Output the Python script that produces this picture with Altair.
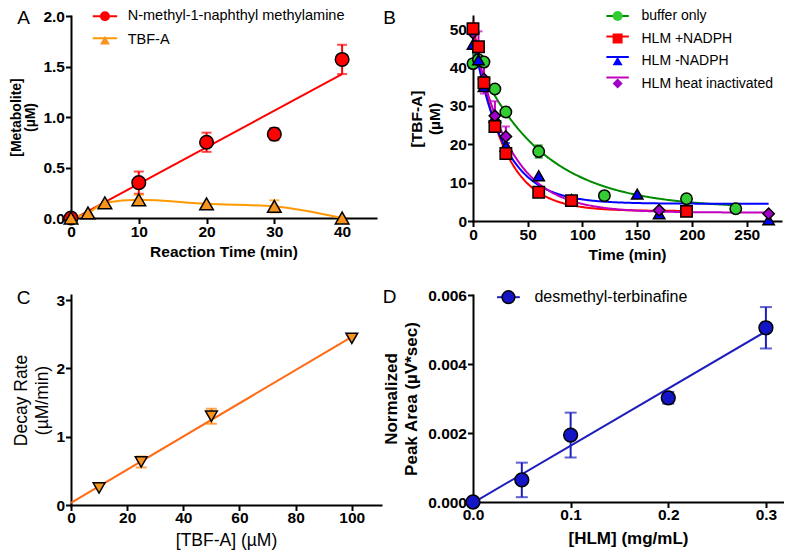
import altair as alt
import pandas as pd

FONT = "Liberation Sans"

panel_letters = ["A", "B", "C", "D"]

# ---------------- Panel A ----------------
a_series = ["N-methyl-1-naphthyl methylamine", "TBF-A"]
a_nm_time = [0, 10, 20, 30, 40]
a_nm_val = [0.0, 0.35, 0.75, 0.83, 1.57]
a_nm_err = [0.0, 0.11, 0.095, 0.06, 0.145]
a_tb_time = [0, 2.5, 5, 10, 20, 30, 40]
a_tb_val = [0.0, 0.05, 0.15, 0.18, 0.14, 0.115, 0.0]
a_tb_err = [0.0, 0.0, 0.0, 0.05, 0.0, 0.06, 0.0]
a_fill = ["#FF0000", "#F7941D"]
a_line = ["#FF0000", "#FF9900"]
a_shapes = ["circle", "triangle-up"]
a_xticks = [0, 10, 20, 30, 40]
a_yticks = [0, 0.5, 1.0, 1.5, 2.0]

# ---------------- Panel B ----------------
b_series = ["buffer only", "HLM +NADPH", "HLM -NADPH", "HLM heat inactivated"]
b_buf_t = [0, 5, 10, 20, 30, 60, 120, 195, 240]
b_buf_v = [41.0, 42.0, 41.4, 34.4, 28.4, 18.1, 6.6, 5.8, 3.2]
b_buf_e = [0, 0, 0, 0, 0, 1.6, 0, 0, 0]
b_plus_t = [0, 5, 10, 20, 30, 60, 90, 195]
b_plus_v = [50.1, 45.4, 36.0, 24.6, 17.6, 7.5, 5.3, 2.5]
b_plus_e = [0, 0, 0, 0, 0, 0, 0, 0]
b_minus_t = [0, 5, 10, 20, 30, 60, 90, 150, 170, 270]
b_minus_v = [46.0, 42.0, 35.0, 27.0, 19.5, 11.8, 5.6, 7.0, 1.9, 0.3]
b_minus_e = [0, 0, 0, 0, 0.8, 0, 0, 0, 0, 0]
b_heat_t = [0, 5, 10, 20, 30, 170, 270]
b_heat_v = [49.0, 45.2, 37.0, 27.4, 22.0, 2.8, 1.9]
b_heat_e = [0, 4.2, 3.8, 3.8, 2.6, 0, 0]
# one-phase decay fit parameters: y0, plateau, k, last time
b_fit_y0 = [44.0, 52.0, 48.0, 49.0]
b_fit_plateau = [3.3, 2.6, 4.5, 2.2]
b_fit_k = [0.0164, 0.0388, 0.0366, 0.0304]
b_fit_tmax = [240, 195, 270, 270]
b_fill = ["#33CC33", "#FF0000", "#0000FF", "#A000C8"]
b_line = ["#008A00", "#FF0000", "#0000FF", "#C000C0"]
b_shapes = ["circle", "square", "triangle-up", "diamond"]
b_xticks = [0, 50, 100, 150, 200, 250]
b_yticks = [0, 10, 20, 30, 40, 50]

# ---------------- Panel C ----------------
c_conc = [10, 25, 50, 100]
c_rate = [0.25, 0.63, 1.30, 2.44]
c_err = [0.0, 0.08, 0.11, 0.0]
c_fill = "#F7931E"
c_line = "#FF6A13"
c_xticks = [0, 20, 40, 60, 80, 100]
c_yticks = [0, 1, 2, 3]

# ---------------- Panel D ----------------
d_series = ["desmethyl-terbinafine"]
d_hlm = [0.0, 0.05, 0.1, 0.2, 0.3]
d_area = [0.0, 0.00064, 0.00194, 0.00302, 0.00505]
d_err = [0.0, 0.0005, 0.00065, 0.00017, 0.0006]
d_fill = ["#1515C8"]
d_line = ["#1E1EBE"]
d_xticks = [0, 0.1, 0.2, 0.3]
d_yticks = [0, 0.002, 0.004, 0.006]

LSUF = " (fit)"  # key suffix for the line legends (keeps them apart from marker legends)


def long_df(names, times, vals, errs):
    rows = []
    for name, ts, vs, es in zip(names, times, vals, errs):
        for t, v, e in zip(ts, vs, es):
            rows.append({"t": t, "v": v, "err": e, "lo": v - e, "hi": v + e,
                         "series": name, "series_l": name + LSUF})
    return pd.DataFrame(rows)


def axis(values, title, fmt=None, tsize=15.5, tweight="bold", tpad=4, lpad=1,
         lh=None, ext=None):
    kw = dict(values=values, title=title, titleFontSize=tsize, titleFontWeight=tweight,
              titlePadding=tpad, labelPadding=lpad, labelFlush=False, labelOverlap=False)
    if fmt:
        kw["format"] = fmt
    if lh:
        kw["titleLineHeight"] = lh
    if ext is not None:
        kw["minExtent"] = ext
        kw["maxExtent"] = ext
    return alt.Axis(**kw)


def line_legend(lx, ly, half, size, fs, loff, rpad):
    f = half / (size ** 0.5 / 2)
    return alt.Legend(orient="none", legendX=lx, legendY=ly, title=None,
                      symbolType=f"M{-f:.3f},0L{f:.3f},0", symbolSize=size,
                      symbolStrokeWidth=2, labelExpr="''", labelFontSize=fs,
                      labelOffset=loff, rowPadding=rpad, padding=0, zindex=1)


def marker_legend(lx, ly, size, fs, loff, rpad):
    return alt.Legend(orient="none", legendX=lx, legendY=ly, title=None,
                      symbolSize=size, symbolStrokeColor="black", symbolStrokeWidth=1.5,
                      labelFontSize=fs, labelOffset=loff, rowPadding=rpad, padding=0,
                      labelFont=FONT, labelColor="black", labelLimit=400, zindex=2)


def letter(ch, dx, dy):
    return alt.Chart(pd.DataFrame({"letter": [ch]})).mark_text(
        font=FONT, fontSize=19, align="center", baseline="middle", color="black"
    ).encode(x=alt.value(dx), y=alt.value(dy), text="letter:N")


def errbars(df, names, colors, xf, yf, size):
    layers = []
    for name, col in zip(names, colors):
        layers.append(alt.Chart(df).transform_filter(
            (alt.datum.series == name) & (alt.datum.err > 0)).mark_errorbar(
            ticks=True, size=size, thickness=2, color=col).encode(
            x=xf("t"), y=yf("lo"), y2="hi:Q"))
    return layers


# ======== Panel A ========
dfa = long_df(a_series, [a_nm_time, a_tb_time], [a_nm_val, a_tb_val], [a_nm_err, a_tb_err])
axA_x = axis(a_xticks, "Reaction Time (min)", tpad=4, lpad=1)
axA_y = axis(a_yticks, ["[Metabolite]", "(\u00b5M)"], fmt=".1f", tsize=14, lh=14, tpad=6, ext=28)
sAx = alt.Scale(domain=[0, 45], nice=False, zero=False)
sAy = alt.Scale(domain=[0, 2], nice=False, zero=False)
xA = lambda f: alt.X(f"{f}:Q", scale=sAx, axis=axA_x)
yA = lambda f: alt.Y(f"{f}:Q", scale=sAy, axis=axA_y)
strokeA = alt.Stroke("series_l:N", scale=alt.Scale(domain=[s + LSUF for s in a_series], range=a_line),
                     legend=line_legend(26.7, -7, 12.2, 100, 14.5, 15.5, 7))
legA = marker_legend(26.7, -7, 100, 14.5, 15.5, 7)

a_fit = alt.Chart(dfa).transform_filter(alt.datum.series == a_series[0]).transform_regression(
    "t", "v", groupby=["series_l"]).mark_line(strokeWidth=2).encode(x=xA("t"), y=yA("v"), stroke=strokeA)
a_curve = alt.Chart(dfa).transform_filter(alt.datum.series == a_series[1]).mark_line(
    strokeWidth=2, interpolate="monotone").encode(x=xA("t"), y=yA("v"), stroke=strokeA)
a_err = errbars(dfa, a_series, a_line, xA, yA, 10)
a_pts = alt.Chart(dfa).mark_point(filled=True, size=185, stroke="black", strokeWidth=1.5, opacity=1).encode(
    x=xA("t"), y=yA("v"),
    fill=alt.Fill("series:N", scale=alt.Scale(domain=a_series, range=a_fill), legend=legA),
    shape=alt.Shape("series:N", scale=alt.Scale(domain=a_series, range=a_shapes), legend=legA))
panelA = alt.layer(a_fit, a_curve, *a_err, a_pts, letter(panel_letters[0], -47.4, 2.3)).properties(
    width=305, height=202)

# ======== Panel B ========
order = [0, 2, 3, 1]  # drawing order (HLM +NADPH on top)
b_t_all = [b_buf_t, b_plus_t, b_minus_t, b_heat_t]
b_v_all = [b_buf_v, b_plus_v, b_minus_v, b_heat_v]
b_e_all = [b_buf_e, b_plus_e, b_minus_e, b_heat_e]
dfb = long_df([b_series[i] for i in order], [b_t_all[i] for i in order],
              [b_v_all[i] for i in order], [b_e_all[i] for i in order])
axB_x = axis(b_xticks, "Time (min)", tpad=4, lpad=1)
axB_y = axis(b_yticks, ["[TBF-A]", "(\u00b5M)"], tsize=15.5, lh=17.5, tpad=7, ext=24)
sBx = alt.Scale(domain=[0, 281.3], nice=False, zero=False)
sBy = alt.Scale(domain=[0, 53.4], nice=False, zero=False)
xB = lambda f: alt.X(f"{f}:Q", scale=sBx, axis=axB_x)
yB = lambda f: alt.Y(f"{f}:Q", scale=sBy, axis=axB_y)
strokeB = alt.Stroke("series_l:N", scale=alt.Scale(domain=[s + LSUF for s in b_series], range=b_line),
                     legend=line_legend(137.6, -7, 11.2, 100, 14, 16.9, 6.5))
legB = marker_legend(137.6, -7, 100, 14, 16.9, 6.5)

b_curves = []
for i in range(4):
    expr = f"{b_fit_plateau[i]} + ({b_fit_y0[i]} - {b_fit_plateau[i]}) * exp(-{b_fit_k[i]} * datum.t)"
    b_curves.append(
        alt.Chart(alt.sequence(0, b_fit_tmax[i] + 0.5, 1, as_="t")).transform_calculate(
            v=expr, series_l=f"'{b_series[i] + LSUF}'").mark_line(strokeWidth=2).encode(
            x=xB("t"), y=yB("v"), stroke=strokeB))
b_err = errbars(dfb, b_series, b_line, xB, yB, 8)
b_pts = alt.Chart(dfb).mark_point(filled=True, size=130, stroke="black", strokeWidth=1.5, opacity=1).encode(
    x=xB("t"), y=yB("v"),
    fill=alt.Fill("series:N", scale=alt.Scale(domain=b_series, range=b_fill), legend=legB),
    shape=alt.Shape("series:N", scale=alt.Scale(domain=b_series, range=b_shapes), legend=legB))
panelB = alt.layer(*b_curves, *b_err, b_pts, letter(panel_letters[1], -83.4, 2.3)).properties(
    width=308, height=205)

# ======== Panel C ========
dfc = pd.DataFrame({"x": c_conc, "v": c_rate, "lo": [v - e for v, e in zip(c_rate, c_err)],
                    "hi": [v + e for v, e in zip(c_rate, c_err)], "err": c_err})
axC_x = axis(c_xticks, "[TBF-A] (\u00b5M)", tsize=17.5, tweight="normal", tpad=5, lpad=0)
axC_y = axis(c_yticks, ["Decay Rate", "(\u00b5M/min)"], tsize=17.5, tweight="normal", lh=20.5, tpad=5, ext=15)
sCx = alt.Scale(domain=[0, 110.4], nice=False, zero=False)
sCy = alt.Scale(domain=[0, 3.075], nice=False, zero=False)
xC = lambda f: alt.X(f"{f}:Q", scale=sCx, axis=axC_x)
yC = lambda f: alt.Y(f"{f}:Q", scale=sCy, axis=axC_y)
c_fit = alt.Chart(dfc).transform_regression("x", "v", extent=[0, 100]).mark_line(
    strokeWidth=2, color=c_line).encode(x=xC("x"), y=yC("v"))
c_errb = alt.Chart(dfc).transform_filter(alt.datum.err > 0).mark_errorbar(
    ticks=True, size=11, thickness=2, color="#FF7F00").encode(x=xC("x"), y=yC("lo"), y2="hi:Q")
c_pts = alt.Chart(dfc).mark_point(filled=True, shape="triangle-down", size=140, fill=c_fill,
                                  stroke="black", strokeWidth=1.5, opacity=1).encode(x=xC("x"), y=yC("v"))
panelC = alt.layer(c_fit, c_errb, c_pts, letter(panel_letters[2], -47.4, 2.7)).properties(
    width=310, height=210)

# ======== Panel D ========
dfd = long_df(d_series, [d_hlm], [d_area], [d_err])
axD_x = axis(d_xticks, "[HLM] (mg/mL)", fmt=".1f", tsize=17, tweight="bold", tpad=7, lpad=0)
axD_y = axis(d_yticks, ["Normalized", "Peak Area (\u00b5V*sec)"], fmt=".3f", tsize=17,
             tweight="bold", lh=20, tpad=8, ext=45)
sDx = alt.Scale(domain=[0, 0.3175], nice=False, zero=False)
sDy = alt.Scale(domain=[0, 0.006], nice=False, zero=False)
xD = lambda f: alt.X(f"{f}:Q", scale=sDx, axis=axD_x)
yD = lambda f: alt.Y(f"{f}:Q", scale=sDy, axis=axD_y)
strokeD = alt.Stroke("series_l:N", scale=alt.Scale(domain=[s + LSUF for s in d_series], range=d_line),
                     legend=line_legend(27.45, -5.8, 11.4, 161, 16, 18, 6))
legD = marker_legend(27.45, -5.8, 161, 16, 18, 6)
d_fit = alt.Chart(dfd).transform_regression("t", "v", groupby=["series_l"]).mark_line(
    strokeWidth=2).encode(x=xD("t"), y=yD("v"), stroke=strokeD)
d_errb = errbars(dfd, d_series, d_line, xD, yD, 12)
d_pts = alt.Chart(dfd).mark_point(filled=True, size=190, stroke="black", strokeWidth=1.5, opacity=1).encode(
    x=xD("t"), y=yD("v"),
    fill=alt.Fill("series:N", scale=alt.Scale(domain=d_series, range=d_fill), legend=legD))
panelD = alt.layer(d_fit, *d_errb, d_pts, letter(panel_letters[3], -83.4, 1.7)).properties(
    width=310, height=207)

indep = dict(fill="independent", shape="independent", stroke="independent", color="independent")
chart = alt.concat(panelA, panelB, panelC, panelD, columns=2,
                   spacing={"row": 74, "column": 92}, bounds="flush").resolve_scale(
    **indep).resolve_legend(**indep).properties(
    autosize=alt.AutoSizeParams(type="none"),
    padding={"left": 63, "top": 8, "right": 713, "bottom": 535},
).configure_view(stroke=None).configure_axis(
    domainColor="black", domainWidth=2, domainCap="square", tickColor="black", tickWidth=2,
    tickSize=5.5, grid=False, labelFont=FONT, labelFontSize=15.5, labelFontWeight="bold",
    labelColor="black", titleFont=FONT, titleColor="black"
).configure_legend(labelFont=FONT, labelColor="black")

chart.save("out.html", embed_options={"renderer": "svg", "actions": False})
